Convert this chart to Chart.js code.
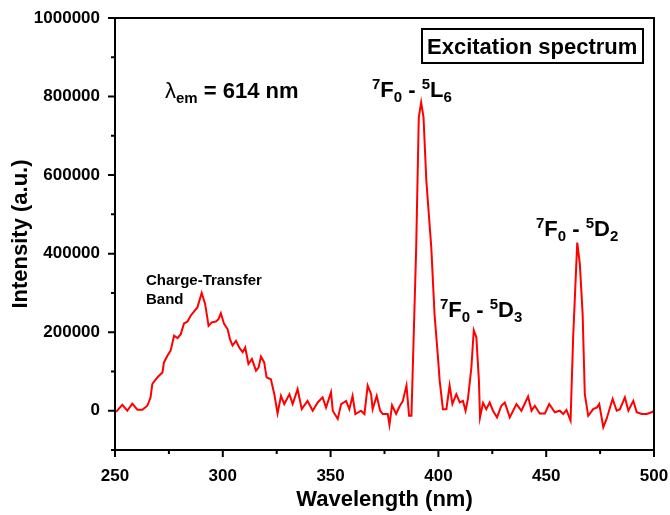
<!DOCTYPE html>
<html>
<head>
<meta charset="utf-8">
<script src="https://cdn.jsdelivr.net/npm/chart.js@4/dist/chart.umd.min.js"></script>
<style>
  html, body { margin: 0; padding: 0; background: #ffffff; }
  #c { display: block; }
</style>
</head>
<body>
<canvas id="c" width="670" height="515"></canvas>
<script>
// ---- Data ----
const wavelengths = [
  250.5, 253.4, 255.7, 258.0, 260.4, 262.7, 265.0, 266.5, 267.3, 268.9,
  270.4, 272.0, 272.7, 274.3, 275.8, 277.4, 279.0, 280.5, 282.0, 283.6,
  285.1, 286.7, 288.2, 290.2, 291.8, 293.4, 294.9, 296.8, 298.0, 299.1,
  300.6, 302.2, 303.3, 304.5, 306.1, 307.6, 309.2, 310.4, 311.9, 313.5,
  315.4, 316.6, 317.7, 319.2, 320.3, 322.3, 323.9, 325.4, 327.0, 328.5,
  330.9, 332.4, 334.7, 336.6, 339.3, 341.7, 344.0, 346.3, 347.9, 350.2,
  351.0, 353.3, 354.9, 357.2, 358.7, 360.2, 361.5, 364.1, 365.7, 367.2,
  368.8, 369.5, 371.4, 373.0, 374.2, 376.5, 377.3, 378.5, 380.4, 381.9,
  383.5, 385.2, 386.4, 387.5, 389.7, 390.9, 392.0, 393.1, 394.4, 396.7,
  398.2, 399.8, 400.6, 402.1, 403.7, 405.2, 406.5, 408.3, 409.9, 411.4,
  412.6, 413.7, 415.3, 416.4, 417.6, 418.8, 419.3, 420.7, 422.2, 423.8,
  425.3, 427.2, 429.2, 430.8, 433.1, 436.2, 438.5, 441.6, 443.2, 444.7,
  447.0, 449.4, 451.4, 454.0, 456.3, 457.9, 459.4, 461.3, 462.5, 464.4,
  465.6, 466.9, 467.9, 469.5, 471.8, 473.6, 474.6, 476.5, 478.0, 480.8,
  482.7, 484.2, 486.5, 488.1, 490.4, 492.0, 494.3, 496.6, 498.9, 500.0
];
const intensities = [
  -3000, 15000, 0, 18000, 2500, 2500, 12700, 34000, 68000, 80000,
  89000, 97600, 123000, 140000, 153000, 191000, 185000, 195000, 222000, 227000,
  242000, 253000, 263000, 300000, 272000, 216000, 225000, 227000, 233000, 248000,
  221000, 208000, 183000, 166000, 178000, 161000, 149000, 161000, 119000, 132000,
  102000, 110000, 138000, 123000, 85000, 80000, 42000, -7000, 38000, 17000,
  42000, 17000, 55000, 4000, 25000, 0, 21000, 34000, 8000, 47000,
  0, -21000, 17000, 25000, 4000, 38000, -8500, 0, -8500, 64000,
  42000, 4000, 38000, 0, -8500, -8500, -36000, 14000, -8000, 10000,
  25000, 64000, -13000, -13000, 416000, 747000, 785000, 747000, 586000, 416000,
  246000, 136000, 76000, 4000, 4000, 64000, 17000, 42000, 21000, 25000,
  0, 30000, 110000, 205000, 187000, 76000, -17000, 20000, 4000, 21000,
  0, -17000, 12700, 21000, -17000, 17000, 0, 36000, 0, 12700,
  -7000, -7000, 17000, -4000, 0, -8500, 2000, -25000, 187000, 428000,
  374000, 246000, 42000, -13000, 4000, 8500, 17000, -42000, -21000, 30000,
  0, 4000, 34000, 0, 25000, -4000, -8500, -8500, -4000, 0
];
const xTickLabels = [250, 300, 350, 400, 450, 500];
const yTickLabels = [0, 200000, 400000, 600000, 800000, 1000000];

const FONT = '"Liberation Sans", Arial, Helvetica, sans-serif';

const points = wavelengths.map((w, i) => ({ x: w, y: intensities[i] }));

// Draw a label made of runs: {t, size, dy, bold}
function drawRuns(ctx, x, y, runs) {
  let cx = x;
  ctx.textBaseline = 'alphabetic';
  ctx.textAlign = 'left';
  for (const r of runs) {
    ctx.font = (r.bold === false ? '' : 'bold ') + r.size + 'px ' + (r.family || FONT);
    ctx.fillText(r.t, cx, y + (r.dy || 0));
    cx += ctx.measureText(r.t).width;
  }
}
function transition(ctx, x, y, sup1, main1, sub1, sup2, main2, sub2) {
  const M = 22, S = 15;
  drawRuns(ctx, x, y, [
    { t: sup1, size: S, dy: -8 },
    { t: main1, size: M },
    { t: sub1, size: S, dy: 5 },
    { t: ' - ', size: M },
    { t: sup2, size: S, dy: -8 },
    { t: main2, size: M },
    { t: sub2, size: S, dy: 5 }
  ]);
}

const decor = {
  id: 'decor',
  afterDraw(chart) {
    const ctx = chart.ctx;
    const a = chart.chartArea;
    const xs = chart.scales.x, ys = chart.scales.y;
    ctx.save();
    ctx.strokeStyle = '#000';
    ctx.fillStyle = '#000';
    ctx.lineWidth = 2;
    // frame
    ctx.strokeRect(a.left, a.top, a.right - a.left, a.bottom - a.top);
    // ticks (outward)
    ctx.beginPath();
    xs.ticks.forEach(t => {
      const px = xs.getPixelForValue(t.value);
      const major = xTickLabels.includes(t.value);
      ctx.moveTo(px, a.bottom);
      ctx.lineTo(px, a.bottom + (major ? 7 : 4));
    });
    ys.ticks.forEach(t => {
      const py = ys.getPixelForValue(t.value);
      const major = yTickLabels.includes(t.value);
      ctx.moveTo(a.left, py);
      ctx.lineTo(a.left - (major ? 7 : 4), py);
    });
    ctx.stroke();

    // "Excitation spectrum" box
    ctx.lineWidth = 2;
    ctx.strokeRect(422, 29, 221, 34);
    drawRuns(ctx, 427, 53.5, [{ t: 'Excitation spectrum', size: 22 }]);

    // lambda_em = 614 nm
    drawRuns(ctx, 165, 98, [
      { t: 'λ', size: 22, bold: false },
      { t: 'em', size: 15, dy: 5 },
      { t: ' = 614 nm', size: 22 }
    ]);

    // transitions
    transition(ctx, 372, 97, '7', 'F', '0', '5', 'L', '6');
    transition(ctx, 440, 317, '7', 'F', '0', '5', 'D', '3');
    transition(ctx, 536, 236, '7', 'F', '0', '5', 'D', '2');

    // Charge-transfer band
    drawRuns(ctx, 146, 284.5, [{ t: 'Charge-Transfer', size: 15 }]);
    drawRuns(ctx, 146, 303.5, [{ t: 'Band', size: 15 }]);
    ctx.restore();
  }
};

new Chart(document.getElementById('c'), {
  type: 'scatter',
  data: {
    datasets: [{
      data: points,
      showLine: true,
      borderColor: '#ff0000',
      backgroundColor: '#ff0000',
      borderWidth: 2,
      pointRadius: 0,
      tension: 0,
      fill: false
    }]
  },
  options: {
    responsive: false,
    animation: false,
    devicePixelRatio: 1,
    layout: { padding: { left: 0, right: 16, top: 18, bottom: 0 } },
    plugins: { legend: { display: false }, tooltip: { enabled: false } },
    scales: {
      x: {
        type: 'linear',
        min: 250, max: 500,
        afterFit: s => { s.height = 65; s.paddingLeft = 0; s.paddingRight = 0; },
        grid: { display: false, drawTicks: false },
        border: { display: false },
        ticks: {
          stepSize: 25, autoSkip: false, maxRotation: 0, padding: 16,
          color: '#000',
          font: { family: FONT, size: 17, weight: 'bold' },
          callback: v => (xTickLabels.includes(v) ? String(v) : '')
        },
        title: {
          display: true, text: 'Wavelength (nm)', color: '#000',
          font: { family: FONT, size: 22, weight: 'bold' },
          padding: { top: 0, bottom: 2 }
        }
      },
      y: {
        type: 'linear',
        min: -100000, max: 1000000,
        afterFit: s => { s.width = 115; s.paddingTop = 0; s.paddingBottom = 0; },
        grid: { display: false, drawTicks: false },
        border: { display: false },
        ticks: {
          stepSize: 100000, autoSkip: false, padding: 15,
          color: '#000',
          font: { family: FONT, size: 17, weight: 'bold' },
          callback: v => (yTickLabels.includes(v) ? String(v) : '')
        },
        title: {
          display: true, text: 'Intensity (a.u.)', color: '#000',
          font: { family: FONT, size: 22, weight: 'bold' },
          padding: { top: 8, bottom: 0 }
        }
      }
    }
  },
  plugins: [decor]
});
</script>
</body>
</html>
